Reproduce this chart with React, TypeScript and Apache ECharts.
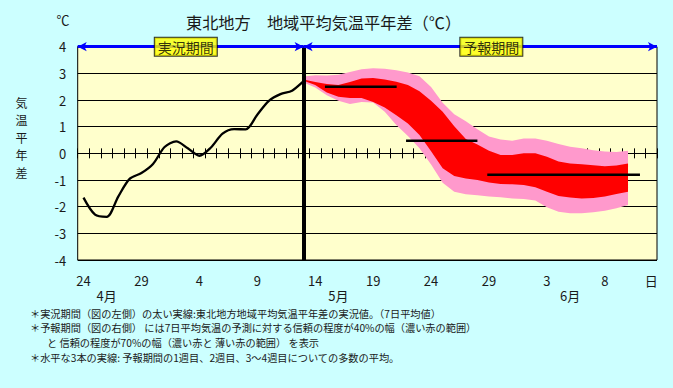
import React, { useEffect, useRef } from "react";
import * as echarts from "echarts";

const FONT = '"Noto Sans CJK JP", "Noto Sans", sans-serif';
const INK = "#1a1a1a";
const PINK = "#ff99cc";
const RED = "#ff0000";
const BLUE = "#0000ff";

// Categories: one per day, 24 Apr .. 12 Jun
const categories = [
  "4/24", "4/25", "4/26", "4/27", "4/28", "4/29", "4/30",
  "5/1", "5/2", "5/3", "5/4", "5/5", "5/6", "5/7", "5/8", "5/9", "5/10",
  "5/11", "5/12", "5/13", "5/14", "5/15", "5/16", "5/17", "5/18", "5/19", "5/20",
  "5/21", "5/22", "5/23", "5/24", "5/25", "5/26", "5/27", "5/28", "5/29", "5/30", "5/31",
  "6/1", "6/2", "6/3", "6/4", "6/5", "6/6", "6/7", "6/8", "6/9", "6/10", "6/11", "6/12",
];

// Tick labels (day row and month row)
const dayLabels = [
  "24", "", "", "", "", "29", "", "", "", "",
  "4", "", "", "", "", "9", "", "", "", "",
  "14", "", "", "", "", "19", "", "", "", "",
  "24", "", "", "", "", "29", "", "", "", "",
  "3", "", "", "", "", "8", "", "", "", "日",
];
const monthLabels = [
  "", "", "4月", "", "", "", "", "", "", "",
  "", "", "", "", "", "", "", "", "", "",
  "", "", "5月", "", "", "", "", "", "", "",
  "", "", "", "", "", "", "", "", "", "",
  "", "", "6月", "", "", "", "", "", "", "",
];

// Observed 7-day mean anomaly (index 0 .. 19)
const observed = [
  -1.66, -2.3, -2.38, -1.62, -0.95, -0.74, -0.4, 0.24, 0.45, 0.19,
  -0.09, 0.22, 0.74, 0.91, 0.9, 1.45, 1.97, 2.22, 2.35, 2.71,
];

// Forecast period (category indices) and the confidence bands
const forecastDays = [
  19, 20, 21, 22, 23, 24, 25, 26, 27, 28, 29, 30, 31, 32, 33, 34, 35, 36, 37, 38,
  39, 40, 41, 42, 43, 44, 45, 46, 47,
];
const outerUpper = [
  2.88, 2.93, 2.92, 2.95, 3.05, 3.15, 3.19, 3.17, 3.12, 3.03, 2.89, 2.49, 1.9, 1.47, 1.2,
  0.9, 0.63, 0.52, 0.47, 0.56, 0.56, 0.47, 0.35, 0.25, 0.19, 0.12, 0.07, 0.05, 0.1,
];
const innerUpper = [
  2.77, 2.68, 2.6, 2.56, 2.68, 2.81, 2.83, 2.77, 2.69, 2.56, 2.33, 1.97, 1.56, 1.02, 0.54,
  0.33, 0.1, -0.06, -0.06, 0.0, 0.0, -0.13, -0.31, -0.38, -0.41, -0.45, -0.48, -0.46, -0.38,
];
const innerLower = [
  2.72, 2.56, 2.28, 2.12, 2.08, 2.08, 1.93, 1.72, 1.43, 1.12, 0.69, 0.08, -0.56, -0.85, -0.94,
  -1.0, -1.09, -1.15, -1.16, -1.19, -1.27, -1.44, -1.6, -1.66, -1.69, -1.67, -1.62, -1.52, -1.44,
];
const outerLower = [
  2.66, 2.47, 2.18, 1.97, 1.85, 1.93, 1.91, 1.56, 1.06, 0.65, 0.19, -0.42, -1.1, -1.44, -1.53,
  -1.57, -1.62, -1.65, -1.69, -1.71, -1.77, -2.02, -2.19, -2.25, -2.25, -2.21, -2.15, -2.06, -1.94,
];

// Weekly mean lines (week 1, week 2, weeks 3-4)
const weekStart = [20.84, 27.84, 34.85];
const weekEnd = [27.03, 34.0, 48.03];
const weekMean = [2.5, 0.47, -0.8];

// Period banners
const periodNames = ["実況期間", "予報期間"];
const lastObservedIndex = 19;

const footnotes = [
  "＊実況期間（図の左側）の太い実線:東北地方地域平均気温平年差の実況値。（7日平均値）",
  "＊予報期間（図の右側） には7日平均気温の予測に対する信頼の程度が40%の幅（濃い赤の範囲）",
  "と 信頼の程度が70%の幅（濃い赤と 薄い赤の範囲） を表示",
  "＊水平な3本の実線: 予報期間の1週目、2週目、3～4週目についての多数の平均。",
];
const yNameChars = ["気", "温", "平", "年", "差"];

function pairs(xs: number[], ys: number[]) {
  return xs.map((x, i) => [x, ys[i]]);
}
function diff(a: number[], b: number[]) {
  return a.map((v, i) => +(v - b[i]).toFixed(4));
}

export default function App() {
  const ref = useRef<HTMLDivElement>(null);
  useEffect(() => {
    document.body.style.margin = "0";
    if (!ref.current) return;
    const chart = echarts.init(ref.current, null, { renderer: "svg" });

    const bandLine = { opacity: 0, width: 0 };
    const baseCat = {
      type: "category",
      data: categories,
      position: "bottom",
      boundaryGap: true,
      splitLine: { show: false },
    };
    const tickAxis = (inside: boolean) => ({
      ...baseCat,
      axisLine: { show: true, onZero: true, onZeroAxisIndex: 0, lineStyle: { color: "#000", width: 1 } },
      axisTick: { show: true, inside, length: 5, interval: 0, lineStyle: { color: "#000", width: 1 } },
      axisLabel: { show: false },
    });

    const weekSeries = weekMean.map((m, i) => ({
      type: "line",
      xAxisIndex: 2,
      yAxisIndex: 0,
      data: [
        [weekStart[i], m],
        [weekEnd[i], m],
      ],
      symbol: "none",
      lineStyle: { color: "#000", width: 2.5 },
      z: 6,
      clip: false,
      silent: true,
      ...(i === 0
        ? {
            markLine: {
              silent: true,
              symbol: ["arrow", "arrow"],
              symbolSize: [7, 9],
              label: { show: false },
              lineStyle: { color: BLUE, width: 3, type: "solid" },
              data: [
                [{ coord: [-0.5, 4] }, { coord: [lastObservedIndex, 4] }],
                [{ coord: [lastObservedIndex, 4] }, { coord: [49.5, 4] }],
              ],
            },
          }
        : {}),
    }));

    const plain = { fontWeight: "normal", color: INK, fontFamily: FONT };

    const option: any = {
      animation: false,
      backgroundColor: "#ccffff",
      textStyle: { fontFamily: FONT },
      title: [
        {
          text: "東北地方　地域平均気温平年差（℃）",
          left: 186,
          top: 13,
          padding: 0,
          textStyle: { ...plain, fontSize: 16.2, lineHeight: 17 },
        },
        {
          text: "℃",
          left: 56.5,
          top: 12.5,
          padding: 0,
          textStyle: { ...plain, fontSize: 13, lineHeight: 13 },
        },
        ...yNameChars.map((c, i) => ({
          text: c,
          left: 15.5,
          top: 96 + i * 17.5,
          padding: 0,
          textStyle: { ...plain, fontSize: 12, lineHeight: 12 },
        })),
        ...footnotes.map((t, i) => ({
          text: t,
          left: i === 2 ? 47 : 30,
          top: 307.5 + i * 14.8,
          padding: 0,
          textStyle: { ...plain, fontSize: 10.2, lineHeight: 11 },
        })),
      ],
      grid: {
        left: 77.7,
        right: 16,
        top: 46.7,
        bottom: 128,
        show: true,
        backgroundColor: "#ffffcc",
        borderColor: "#000",
        borderWidth: 1,
      },
      xAxis: [
        {
          ...baseCat,
          axisLine: { show: false, onZero: false },
          axisTick: { show: false },
          axisLabel: {
            interval: 0,
            margin: 14,
            fontSize: 13,
            color: INK,
            fontFamily: FONT,
            formatter: (_v: string, i: number) => dayLabels[i],
          },
        },
        {
          ...baseCat,
          offset: 15,
          axisLine: { show: false, onZero: false },
          axisTick: { show: false },
          axisLabel: {
            interval: 0,
            margin: 14,
            fontSize: 13,
            color: INK,
            fontFamily: FONT,
            formatter: (_v: string, i: number) => monthLabels[i],
          },
        },
        {
          type: "value",
          min: -0.5,
          max: 49.5,
          show: false,
          axisLine: { onZero: false },
          splitLine: { show: false },
        },
        tickAxis(true),
        tickAxis(false),
      ],
      yAxis: [
        {
          type: "value",
          min: -4,
          max: 4,
          interval: 1,
          axisLine: { show: false, onZero: false },
          axisTick: { show: false },
          axisLabel: { margin: 11.5, fontSize: 13, color: INK, fontFamily: FONT },
          splitLine: { show: true, lineStyle: { color: "#000", width: 1 } },
        },
      ],
      series: [
        {
          type: "line",
          xAxisIndex: 0,
          stack: "outer",
          stackStrategy: "all",
          data: pairs(forecastDays, outerLower),
          symbol: "none",
          lineStyle: bandLine,
          silent: true,
          z: 2,
        },
        {
          type: "line",
          xAxisIndex: 0,
          stack: "outer",
          stackStrategy: "all",
          data: pairs(forecastDays, diff(outerUpper, outerLower)),
          symbol: "none",
          lineStyle: bandLine,
          areaStyle: { color: PINK, opacity: 1 },
          silent: true,
          z: 2,
        },
        {
          type: "line",
          xAxisIndex: 0,
          stack: "inner",
          stackStrategy: "all",
          data: pairs(forecastDays, innerLower),
          symbol: "none",
          lineStyle: bandLine,
          silent: true,
          z: 3,
        },
        {
          type: "line",
          xAxisIndex: 0,
          stack: "inner",
          stackStrategy: "all",
          data: pairs(forecastDays, diff(innerUpper, innerLower)),
          symbol: "none",
          lineStyle: bandLine,
          areaStyle: { color: RED, opacity: 1 },
          silent: true,
          z: 3,
        },
        {
          type: "line",
          xAxisIndex: 0,
          data: observed,
          smooth: 0.3,
          symbol: "none",
          lineStyle: { color: "#000", width: 2.3 },
          silent: true,
          z: 5,
          markLine: {
            silent: true,
            symbol: "none",
            label: { show: false },
            lineStyle: { color: "#000", width: 4, type: "solid" },
            data: [{ xAxis: lastObservedIndex }],
          },
        },
        ...weekSeries,
        {
          type: "scatter",
          xAxisIndex: 2,
          data: [
            [8.83, 4, periodNames[0]],
            [35.2, 4, periodNames[1]],
          ],
          symbol: "circle",
          symbolSize: 0.1,
          itemStyle: { color: "rgba(0,0,0,0)" },
          clip: false,
          silent: true,
          z: 10,
          label: {
            show: true,
            position: "inside",
            formatter: (p: any) => p.value[2],
            backgroundColor: "#ffff00",
            borderColor: "#000",
            borderWidth: 1,
            padding: [2, 3],
            fontSize: 14,
            lineHeight: 14,
            color: "#000",
            fontFamily: FONT,
          },
        },
      ],
    };

    chart.setOption(option);
    return () => chart.dispose();
  }, []);

  return <div ref={ref} style={{ width: 673, height: 388 }} />;
}
